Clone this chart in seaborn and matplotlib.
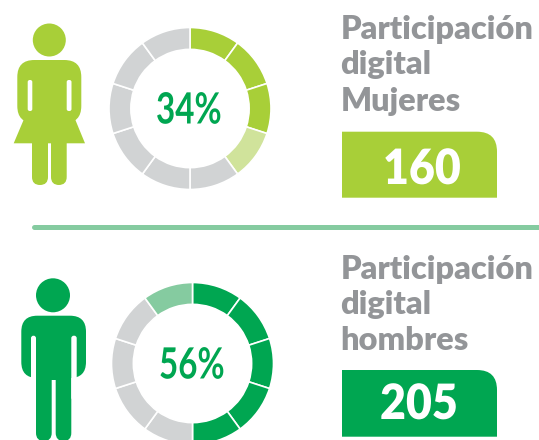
import matplotlib
matplotlib.use('Agg')
import matplotlib.pyplot as plt
import seaborn as sns
from matplotlib.patches import Circle, FancyBboxPatch, PathPatch, Polygon, Rectangle
from matplotlib.path import Path
from matplotlib.patheffects import AbstractPathEffect
from matplotlib.transforms import Affine2D

# datos
titulos = ['Participación\ndigital\nMujeres', 'Participación\ndigital\nhombres']
porcentajes = ['34%', '56%']
totales = ['160', '205']
# anillo de 10 segmentos: llenos, claros, grises (en sentido horario desde arriba)
seg_mujeres = [1, 1, 1, 1, 1, 1, 1, 1, 1, 1]
tipo_mujeres = ['lleno'] * 3 + ['claro'] + ['gris'] * 6
seg_hombres = [1, 1, 1, 1, 1, 1, 1, 1, 1, 1]
tipo_hombres = ['lleno'] * 5 + ['gris'] * 4 + ['claro']

VERDE_LIMA = '#a8cf38'
VERDE = '#00a651'
LIMA_CLARO = '#d0e39b'
VERDE_CLARO = '#85cba0'
GRIS = '#d1d3d4'
GRIS_TEXTO = '#939598'

sns.set_theme(style='white')
plt.rcParams['font.family'] = ['Lato', 'DejaVu Sans']

W, H = 539, 440
fig = plt.figure(figsize=(W / 100, H / 100), dpi=100, facecolor='white')

# capa de fondo en pixeles
ax = fig.add_axes([0, 0, 1, 1])
ax.set_xlim(0, W)
ax.set_ylim(H, 0)
ax.axis('off')


# no hay fuente condensada instalada: se estrecha el texto al dibujarlo
class Estrecho(AbstractPathEffect):
    def __init__(self, sx):
        super().__init__()
        self.sx = sx

    def draw_path(self, renderer, gc, tpath, affine, rgbFace=None):
        renderer.draw_path(gc, tpath, Affine2D().scale(self.sx, 1) + affine, rgbFace)


def redondo(x0, y0, x1, y1, r, color, z=2):
    ax.add_patch(FancyBboxPatch((x0, y0), x1 - x0, y1 - y0,
                                boxstyle=f'round,pad=0,rounding_size={r}',
                                fc=color, ec='none', zorder=z))


def anillo(cx, cy, valores, tipos, lleno, claro, texto, xt):
    R = 81
    a = fig.add_axes([(cx - R) / W, 1 - (cy + R) / H, 2 * R / W, 2 * R / H])
    mapa = {'lleno': lleno, 'claro': claro, 'gris': GRIS}
    a.pie(valores, colors=[mapa[t] for t in tipos], startangle=90, counterclock=False,
          radius=1, wedgeprops=dict(width=0.27, edgecolor='white', linewidth=1.2))
    a.set_xlim(-1, 1)
    a.set_ylim(-1, 1)
    a.axis('off')
    a.patch.set_alpha(0)
    ax.text(xt, cy + 15, texto, color=VERDE, fontsize=31, fontweight='bold',
            ha='left', va='baseline', zorder=5, path_effects=[Estrecho(0.77)])


def caja(x0, y0, x1, y1, r, color, texto, xt, yt):
    p = Path([(x0, y0), (x1 - r, y0), (x1, y0), (x1, y0 + r), (x1, y1), (x0, y1), (x0, y0)],
             [Path.MOVETO, Path.LINETO, Path.CURVE3, Path.CURVE3, Path.LINETO, Path.LINETO, Path.CLOSEPOLY])
    ax.add_patch(PathPatch(p, fc=color, ec='none'))
    ax.text(xt, yt, texto, color='white', fontsize=35, fontweight='heavy', ha='left', va='baseline',
            path_effects=[Estrecho(0.92)])


def titulo(texto, x, bases):
    for linea, y in zip(texto.split('\n'), bases):
        ax.text(x, y, linea, color=GRIS_TEXTO, fontsize=23.4, fontweight='heavy', ha='left', va='baseline')


# mujer
ax.add_patch(Circle((49.3, 40), 16.5, fc=VERDE_LIMA, ec='none'))
redondo(17.3, 60, 81.3, 123, 17, VERDE_LIMA)
ax.add_patch(Polygon([(24, 119), (75, 119), (85, 143.3), (13.7, 143.3)], fc=VERDE_LIMA, ec='none'))
redondo(32, 130, 48, 185, 8, VERDE_LIMA)
redondo(51, 130, 66.7, 185, 8, VERDE_LIMA)
redondo(27.7, 80, 32.3, 111, 2, 'white', z=3)
redondo(66.7, 80, 71.5, 111, 2, 'white', z=3)

# linea separadora
ax.plot([34, 545], [227, 227], color=VERDE_CLARO, lw=3.6, solid_capstyle='round')

# hombre
ax.add_patch(Circle((53, 295.3), 17, fc=VERDE, ec='none'))
redondo(21.3, 315.7, 86, 378, 16, VERDE)
redondo(36, 340, 51.7, 441, 8, VERDE)
redondo(55.7, 340, 71.3, 441, 8, VERDE)
ax.add_patch(Rectangle((36, 330), 35.3, 50, fc=VERDE, ec='none', zorder=3))
redondo(31, 335.7, 36, 400, 2.5, 'white', z=3)
redondo(71.3, 335.7, 76.7, 400, 2.5, 'white', z=3)

# anillos
anillo(190, 108.5, seg_mujeres, tipo_mujeres, VERDE_LIMA, LIMA_CLARO, porcentajes[0], 156)
anillo(192.5, 363.5, seg_hombres, tipo_hombres, VERDE, VERDE_CLARO, porcentajes[1], 159)

# textos y cajas
titulo(titulos[0], 340.3, [39, 74, 110.7])
titulo(titulos[1], 340.3, [279, 314, 350])
caja(342, 131.7, 497, 197.7, 20, VERDE_LIMA, totales[0], 383, 184)
caja(342, 370, 497, 436.7, 20, VERDE, totales[1], 380, 419)

plt.savefig('out.png', dpi=100)
